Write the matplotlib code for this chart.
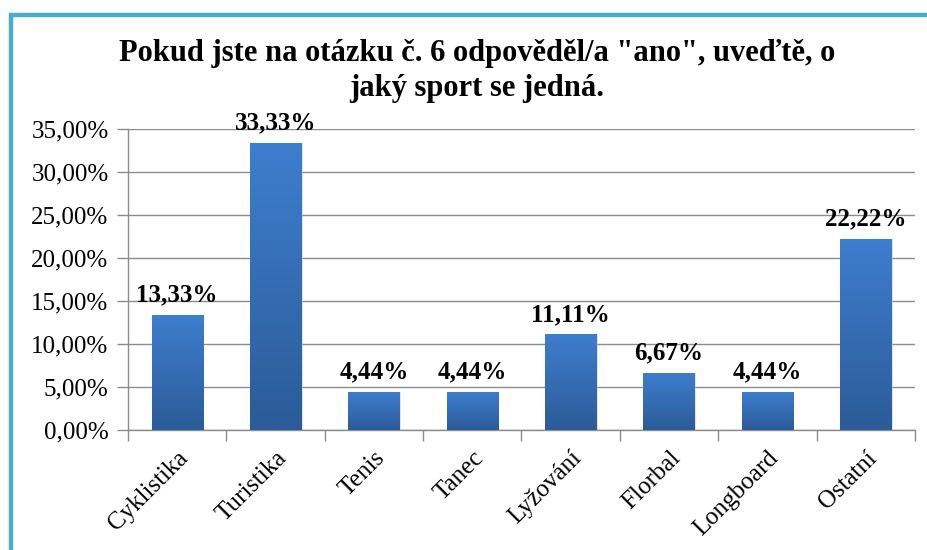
import numpy as np
import matplotlib
matplotlib.use("Agg")
import matplotlib.pyplot as plt
from matplotlib.colors import LinearSegmentedColormap
from matplotlib.patches import Rectangle
from matplotlib.ticker import FuncFormatter, MultipleLocator

categories = ["Cyklistika", "Turistika", "Tenis", "Tanec", "Lyžování", "Florbal", "Longboard", "Ostatní"]
values = [13.33, 33.33, 4.44, 4.44, 11.11, 6.67, 4.44, 22.22]
title = 'Pokud jste na otázku č. 6 odpověděl/a "ano", uveďtě, o\njaký sport se jedná.'

plt.rcParams['font.family'] = ['Liberation Serif', 'DejaVu Serif']

W, H = 928, 550
fig = plt.figure(figsize=(W / 100, H / 100), dpi=100)
ax = fig.add_axes([128 / W, 1 - 430 / H, (915 - 128) / W, (430 - 129) / H])

x = np.arange(len(categories))
bars = ax.bar(x, values, width=0.52, color='none', edgecolor='none', zorder=3)

cmap = LinearSegmentedColormap.from_list('g', ['#2B5B98', '#3E7ECE'])
grad = np.linspace(0, 1, 256).reshape(-1, 1)
for b in bars:
    x0, w = b.get_x(), b.get_width()
    h = b.get_height()
    # soft shadow
    sh = Rectangle((x0 + 0.015, 0), w, h, facecolor='#c8c8c8', edgecolor='none', alpha=0.5, zorder=2)
    ax.add_patch(sh)
    im = ax.imshow(grad, cmap=cmap, origin='lower', extent=(x0, x0 + w, 0, h),
                   aspect='auto', zorder=3, interpolation='bilinear')
    im.set_clip_path(b)
    ax.text(x0 + w / 2, h + 1.0, f"{h:.2f}%".replace('.', ','), ha='center', va='bottom',
            fontsize=18, fontweight='bold', zorder=4)

ax.set_xlim(-0.5, len(categories) - 0.5)
ax.set_ylim(0, 35)
ax.yaxis.set_major_locator(MultipleLocator(5))
ax.yaxis.set_major_formatter(FuncFormatter(lambda v, p: f"{v:.2f}%".replace('.', ',')))
ax.grid(axis='y', color='#8c8c8c', linewidth=1.0, zorder=0)
ax.set_axisbelow(True)

for s in ['top', 'right']:
    ax.spines[s].set_visible(False)
for s in ['left', 'bottom']:
    ax.spines[s].set_color('#8c8c8c')
    ax.spines[s].set_linewidth(1.0)

ax.tick_params(axis='y', length=8, width=1, color='#8c8c8c', labelsize=18, pad=6)
ax.set_xticks(x)
ax.set_xticklabels(categories, rotation=45, ha='right', rotation_mode='anchor', fontsize=18)
ax.tick_params(axis='x', which='major', length=0, pad=12)
ax.set_xticks(np.arange(-0.5, len(categories)), minor=True)
ax.tick_params(axis='x', which='minor', length=8, width=1, color='#8c8c8c')

fig.text(477 / W, 1 - 71 / H, title, ha='center', va='center', fontsize=22,
         fontweight='bold', linespacing=1.25)

# teal frame (left and top edges)
frame = Rectangle((11.5 / W, -0.1), 1.2, 1 - 14.5 / H + 0.1, transform=fig.transFigure,
                  fill=False, edgecolor='#4BACC6', linewidth=3.2, clip_on=False)
fig.add_artist(frame)

fig.savefig('out.png', dpi=100)
